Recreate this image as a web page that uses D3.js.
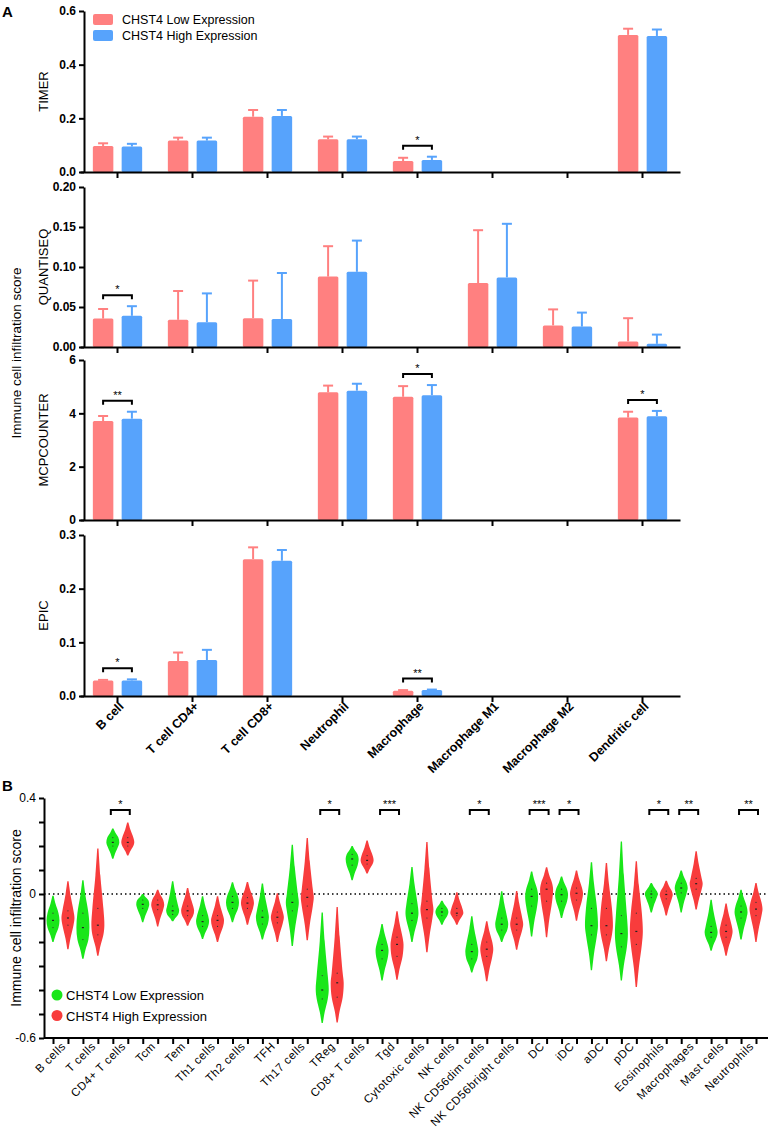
<!DOCTYPE html>
<html>
<head>
<meta charset="utf-8">
<script src="https://d3js.org/d3.v7.min.js"></script>
<style>
body{margin:0;background:#fff;}
svg{font-family:"Liberation Sans",Arial,sans-serif;}
</style>
</head>
<body>
<div id="chart"></div>
<script>
// ---------- panel A data ----------
var cellsA = ["B cell","T cell CD4+","T cell CD8+","Neutrophil","Macrophage","Macrophage M1","Macrophage M2","Dendritic cell"];
var methods = ["TIMER","QUANTISEQ","MCPCOUNTER","EPIC"];

var timerLow    = [0.097,0.117,0.206,0.122,0.041,null,null,0.511];
var timerLowSd  = [0.010,0.011,0.025,0.010,0.012,null,null,0.023];
var timerHigh   = [0.095,0.117,0.209,0.122,0.045,null,null,0.507];
var timerHighSd = [0.010,0.011,0.022,0.010,0.012,null,null,0.024];
var timerSig    = [null,null,null,null,"*",null,null,null];
var timerTicks  = [0,0.2,0.4,0.6];

var quantLow    = [0.0355,0.034,0.036,0.088,null,0.080,0.027,0.007];
var quantLowSd  = [0.012,0.036,0.047,0.038,null,0.066,0.020,0.029];
var quantHigh   = [0.039,0.031,0.035,0.094,null,0.087,0.0255,0.004];
var quantHighSd = [0.012,0.036,0.0575,0.039,null,0.067,0.0175,0.0115];
var quantSig    = ["*",null,null,null,null,null,null,null];
var quantTicks  = [0,0.05,0.10,0.15,0.20];

var mcpLow    = [3.71,null,null,4.79,4.62,null,null,3.84];
var mcpLowSd  = [0.19,null,null,0.25,0.40,null,null,0.22];
var mcpHigh   = [3.80,null,null,4.85,4.68,null,null,3.89];
var mcpHighSd = [0.26,null,null,0.26,0.38,null,null,0.20];
var mcpSig    = ["**",null,null,null,"*",null,null,"*"];
var mcpTicks  = [0,2,4,6];

var epicLow    = [0.029,0.065,0.255,null,0.010,null,null,null];
var epicLowSd  = [0.001,0.016,0.022,null,0.001,null,null,null];
var epicHigh   = [0.029,0.067,0.252,null,0.011,null,null,null];
var epicHighSd = [0.002,0.019,0.020,null,0.001,null,null,null];
var epicSig    = ["*",null,null,null,"**",null,null,null];
var epicTicks  = [0,0.1,0.2,0.3];

// ---------- panel B data ----------
var cellsB = ["B cells","T cells","CD4+ T cells","Tcm","Tem","Th1 cells","Th2 cells","TFH","Th17 cells","TReg",
  "CD8+ T cells","Tgd","Cytotoxic cells","NK cells","NK CD56dim cells","NK CD56bright cells","DC","iDC","aDC","pDC",
  "Eosinophils","Macrophages","Mast cells","Neutrophils"];
// [min, q1, median, q3, max]
var lowViolins = [
  [-0.20,-0.14,-0.11,-0.08,-0.007],[-0.27,-0.19,-0.14,-0.08,0.057],[0.147,0.20,0.215,0.235,0.273],
  [-0.118,-0.06,-0.043,-0.025,0.0],[-0.114,-0.085,-0.07,-0.05,0.053],[-0.187,-0.135,-0.115,-0.09,-0.009],
  [-0.118,-0.06,-0.035,-0.01,0.049],[-0.19,-0.125,-0.097,-0.07,0.044],[-0.217,-0.07,-0.035,0.0,0.205],
  [-0.537,-0.437,-0.40,-0.34,-0.077],[0.057,0.12,0.146,0.165,0.20],[-0.36,-0.27,-0.235,-0.21,-0.125],
  [-0.20,-0.11,-0.08,-0.04,0.112],[-0.128,-0.09,-0.075,-0.06,-0.028],[-0.327,-0.27,-0.24,-0.21,-0.093],
  [-0.20,-0.15,-0.126,-0.10,0.011],[-0.177,-0.05,-0.01,0.02,0.094],[-0.10,-0.03,-0.003,0.02,0.073],
  [-0.318,-0.17,-0.132,-0.06,0.132],[-0.36,-0.22,-0.165,-0.09,0.219],[-0.077,-0.015,0.0,0.012,0.046],
  [-0.077,0.005,0.025,0.045,0.098],[-0.236,-0.18,-0.16,-0.135,-0.024],[-0.19,-0.10,-0.075,-0.05,0.018]
];
var highViolins = [
  [-0.23,-0.13,-0.10,-0.07,0.053],[-0.257,-0.17,-0.13,-0.06,0.19],[0.16,0.20,0.215,0.235,0.298],
  [-0.135,-0.065,-0.045,-0.025,0.018],[-0.132,-0.09,-0.07,-0.05,0.025],[-0.20,-0.135,-0.11,-0.09,-0.009],
  [-0.128,-0.06,-0.038,-0.015,0.05],[-0.20,-0.12,-0.097,-0.075,0.003],[-0.193,-0.05,-0.014,0.02,0.233],
  [-0.535,-0.43,-0.37,-0.33,-0.054],[0.085,0.125,0.14,0.16,0.223],[-0.357,-0.26,-0.21,-0.18,-0.072],
  [-0.243,-0.10,-0.065,-0.03,0.217],[-0.128,-0.09,-0.08,-0.06,0.007],[-0.364,-0.26,-0.23,-0.20,-0.114],
  [-0.232,-0.15,-0.126,-0.10,0.013],[-0.18,-0.03,0.02,0.045,0.111],[-0.111,-0.025,0.003,0.025,0.098],
  [-0.28,-0.17,-0.132,-0.06,0.129],[-0.388,-0.21,-0.156,-0.08,0.136],[-0.09,-0.02,-0.002,0.012,0.055],
  [-0.065,0.02,0.043,0.065,0.178],[-0.257,-0.18,-0.156,-0.13,-0.04],[-0.20,-0.09,-0.063,-0.035,0.046]
];
var sigB = [null,null,"*",null,null,null,null,null,null,"*",null,"***",null,null,"*",null,"***","*",null,null,"*","**",null,"**"];
var yTicksB = [0.4,0.3,0.2,0.1,0,-0.1,-0.2,-0.3,-0.4,-0.5,-0.6];
var yLabelsB = {"0.4":"0.4","0":"0","-0.6":"-0.6"};
var legendLabels = ["CHST4 Low Expression","CHST4 High Expression"];

// ---------- drawing ----------
var colLow = "#ff8080", colHigh = "#57a3fc";
var colGreen = "#19e619", colRed = "#f83c3c";

var svg = d3.select("#chart").append("svg").attr("width",770).attr("height",1130);

svg.append("text").attr("x",2).attr("y",17).attr("font-weight",700).attr("font-size",15).text("A");
svg.append("text").attr("x",2).attr("y",791).attr("font-weight",700).attr("font-size",15).text("B");

var panels = [
  {name:methods[0], low:timerLow, lowSd:timerLowSd, high:timerHigh, highSd:timerHighSd, sig:timerSig, ticks:timerTicks, fmt:".1f", top:11, bottom:172},
  {name:methods[1], low:quantLow, lowSd:quantLowSd, high:quantHigh, highSd:quantHighSd, sig:quantSig, ticks:quantTicks, fmt:".2f", top:187, bottom:347},
  {name:methods[2], low:mcpLow, lowSd:mcpLowSd, high:mcpHigh, highSd:mcpHighSd, sig:mcpSig, ticks:mcpTicks, fmt:"d", top:360, bottom:520},
  {name:methods[3], low:epicLow, lowSd:epicLowSd, high:epicHigh, highSd:epicHighSd, sig:epicSig, ticks:epicTicks, fmt:".1f", top:535, bottom:696}
];

var xA = d3.scaleBand().domain(cellsA).range([80,680]);
var off = 14.4, bw = 20.5;
function cx(c){ return xA(c)+xA.bandwidth()/2; }

panels.forEach(function(p,pi){
  var y = d3.scaleLinear().domain([0,d3.max(p.ticks)]).range([p.bottom,p.top]);
  var g = svg.append("g");
  var rows = cellsA.map(function(c,i){
    return {cell:c, low:p.low[i], lowSd:p.lowSd[i], high:p.high[i], highSd:p.highSd[i], sig:p.sig[i]};
  });
  [["low",-off,colLow],["high",off,colHigh]].forEach(function(s){
    var k=s[0], dx=s[1], col=s[2];
    var sub = rows.filter(function(d){return d[k]!=null;});
    g.selectAll(null).data(sub).enter().append("line")
      .attr("x1",function(d){return cx(d.cell)+dx;}).attr("x2",function(d){return cx(d.cell)+dx;})
      .attr("y1",function(d){return y(d[k]);}).attr("y2",function(d){return y(d[k]+d[k+"Sd"]);})
      .attr("stroke",col).attr("stroke-width",2);
    g.selectAll(null).data(sub).enter().append("line")
      .attr("x1",function(d){return cx(d.cell)+dx-5;}).attr("x2",function(d){return cx(d.cell)+dx+5;})
      .attr("y1",function(d){return y(d[k]+d[k+"Sd"]);}).attr("y2",function(d){return y(d[k]+d[k+"Sd"]);})
      .attr("stroke",col).attr("stroke-width",2);
    g.selectAll(null).data(sub).enter().append("rect")
      .attr("x",function(d){return cx(d.cell)+dx-bw/2;}).attr("width",bw)
      .attr("y",function(d){return y(d[k]);}).attr("height",function(d){return y(0)-y(d[k]);})
      .attr("rx",1.5).attr("fill",col);
  });
  // significance brackets
  var sigRows = rows.filter(function(d){return d.sig;});
  sigRows.forEach(function(d){
    var t = Math.min(y(d.low+d.lowSd), y(d.high+d.highSd)) - 11;
    g.append("path").attr("d","M"+(cx(d.cell)-off)+","+(t+4)+"V"+t+"H"+(cx(d.cell)+off)+"V"+(t+4))
      .attr("fill","none").attr("stroke","#000").attr("stroke-width",2);
    g.append("text").attr("x",cx(d.cell)).attr("y",t-2).attr("text-anchor","middle")
      .attr("font-size",11).text(d.sig);
  });
  // axes
  var ya = g.append("g").attr("transform","translate(84,0)")
    .call(d3.axisLeft(y).tickValues(p.ticks).tickSize(5).tickSizeOuter(0).tickFormat(d3.format(p.fmt)));
  ya.selectAll("text").attr("font-weight",700).attr("font-size",12).attr("fill","#000")
    .attr("font-family","Liberation Sans, Arial, sans-serif");
  var xa = g.append("g").attr("transform","translate(0,"+p.bottom+")")
    .call(d3.axisBottom(xA).tickSize(6).tickSizeOuter(0));
  xa.selectAll("text").remove();
  [ya,xa].forEach(function(a){ a.selectAll("path,line").attr("stroke","#000").attr("stroke-width",2); });
  if (pi==3) {
    g.selectAll(null).data(cellsA).enter().append("text")
      .attr("transform",function(d){return "translate("+(cx(d)+7)+","+(p.bottom+11)+") rotate(-45)";})
      .attr("text-anchor","end").attr("font-weight",700).attr("font-size",12.5).text(function(d){return d;});
  }
  g.append("text").attr("transform","translate(48,"+((p.top+p.bottom)/2)+") rotate(-90)")
    .attr("text-anchor","middle").attr("font-size",13).text(p.name);
});

svg.append("text").attr("transform","translate(21,353) rotate(-90)")
  .attr("text-anchor","middle").attr("font-size",13.5).text("Immune cell infiltration score");

// legend A
[colLow,colHigh].forEach(function(c,i){
  svg.append("rect").attr("x",93).attr("y",14+i*16).attr("width",20).attr("height",11).attr("rx",2).attr("fill",c);
  svg.append("text").attr("x",122).attr("y",24+i*16).attr("font-size",12.5).text(legendLabels[i]);
});

// ---------- panel B ----------
var keysB = [];
cellsB.forEach(function(c){ keysB.push(c+"|low"); keysB.push(c+"|high"); });
var xB = d3.scalePoint().domain(keysB).range([53,756]);
var yB = d3.scaleLinear().domain([-0.6,0.4]).range([1038,798]);

var gB = svg.append("g");
gB.append("line").attr("x1",44).attr("x2",768).attr("y1",yB(0)).attr("y2",yB(0))
  .attr("stroke","#000").attr("stroke-width",1.5).attr("stroke-dasharray","1.5,3");

var halfW = 6.5;
var vArea = d3.area()
  .y(function(d){return yB(d[0]);})
  .x0(function(d){return d[2]-d[1]*halfW;})
  .x1(function(d){return d[2]+d[1]*halfW;})
  .curve(d3.curveCatmullRom.alpha(0.5));

cellsB.forEach(function(c,i){
  [[lowViolins[i],"|low",colGreen],[highViolins[i],"|high",colRed]].forEach(function(s){
    var v=s[0], x=xB(c+s[1]);
    // outline through the quantiles, with tapered tails
    var pts = [[v[0],0.1,x],[v[0]+(v[1]-v[0])*0.45,0.38,x],[v[1],0.85,x],[v[2],1,x],[v[3],0.85,x],
               [v[3]+(v[4]-v[3])*0.55,0.38,x],[v[4],0.1,x]];
    gB.append("path").attr("d",vArea(pts)).attr("fill",s[2]);
    gB.append("rect").attr("x",x-1).attr("y",yB(v[2])-0.6).attr("width",2).attr("height",1.2).attr("fill","#222");
    gB.append("circle").attr("cx",x).attr("cy",yB(v[1])).attr("r",0.6).attr("fill","#333");
    gB.append("circle").attr("cx",x).attr("cy",yB(v[3])).attr("r",0.6).attr("fill","#333");
  });
  if (sigB[i]) {
    var x1 = xB(c+"|low")-2, x2 = xB(c+"|high")+2, t = 810;
    gB.append("path").attr("d","M"+x1+","+(t+5)+"V"+t+"H"+x2+"V"+(t+5))
      .attr("fill","none").attr("stroke","#000").attr("stroke-width",2);
    gB.append("text").attr("x",(x1+x2)/2).attr("y",t-2).attr("text-anchor","middle")
      .attr("font-size",11).text(sigB[i]);
  }
});

var yaB = gB.append("g").attr("transform","translate(44,0)")
  .call(d3.axisLeft(yB).tickValues(yTicksB).tickSize(5).tickSizeOuter(0)
    .tickFormat(function(d){ var k = String(+d.toFixed(1)); return yLabelsB[k] || ""; }));
yaB.selectAll("text").attr("font-size",12).attr("fill","#000").attr("font-family","Liberation Sans, Arial, sans-serif");
var xaB = gB.append("g").attr("transform","translate(0,1038)")
  .call(d3.axisBottom(xB).tickSize(6).tickSizeOuter(0));
xaB.selectAll("text").remove();
xaB.select(".domain").attr("d","M44,0H768");
[yaB,xaB].forEach(function(a){ a.selectAll("path,line").attr("stroke","#000").attr("stroke-width",2); });

gB.selectAll(null).data(cellsB).enter().append("text")
  .attr("transform",function(d){
    var m = (xB(d+"|low")+xB(d+"|high"))/2;
    return "translate("+(m+6)+",1047) rotate(-45)";
  })
  .attr("text-anchor","end").attr("font-size",11.5).attr("letter-spacing",0.5)
  .text(function(d){return d;});

svg.append("text").attr("transform","translate(21,918) rotate(-90)")
  .attr("text-anchor","middle").attr("font-size",14).text("Immune cell infiltration score");

// legend B
[colGreen,colRed].forEach(function(c,i){
  svg.append("circle").attr("cx",57).attr("cy",995+i*20.5).attr("r",5.5).attr("fill",c);
  svg.append("text").attr("x",66).attr("y",1000+i*20.5).attr("font-size",13).text(legendLabels[i]);
});
</script>
</body>
</html>
